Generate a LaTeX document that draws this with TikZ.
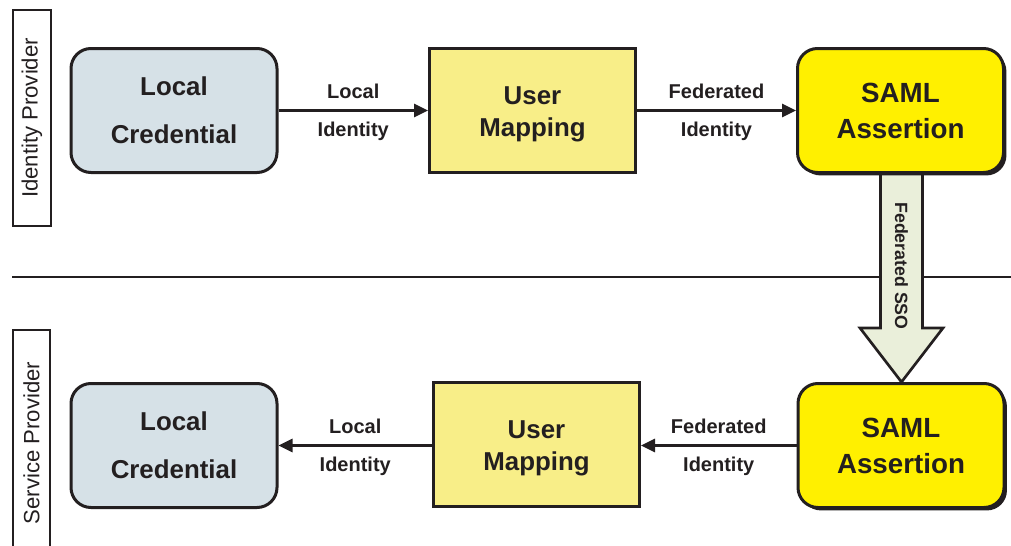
\documentclass[tikz,border=0pt]{standalone}
\usepackage{fontspec}
\setmainfont{Liberation Sans}
\usetikzlibrary{arrows.meta,shadows}
\definecolor{ink}{RGB}{35,31,32}
\definecolor{credblue}{RGB}{214,225,231}
\definecolor{mapyellow}{RGB}{248,238,136}
\definecolor{samlyellow}{RGB}{255,240,0}
\definecolor{ssofill}{RGB}{234,239,218}
\begin{document}
\begin{tikzpicture}[x=0.75pt,y=-0.75pt,
  box/.style={draw=ink, text=ink, line width=2.25pt, align=center, inner sep=0pt,
    minimum width=154.5pt, minimum height=93pt},
  cred/.style={box, rounded corners=15pt, fill=credblue,
    font=\bfseries\fontsize{19.4}{36}\selectfont},
  umap/.style={box, fill=mapyellow, font=\bfseries\fontsize{19.4}{24.5}\selectfont},
  saml/.style={box, rounded corners=15pt, fill=samlyellow,
    font=\bfseries\fontsize{20.8}{27}\selectfont,
    drop shadow={shadow xshift=2.2pt, shadow yshift=-2.2pt, fill=ink, opacity=1}},
  lane/.style={text=ink, font=\fontsize{16.6}{19}\selectfont, inner sep=0pt},
  conn/.style={draw=ink, line width=1.6pt, -{Triangle[length=10.5pt,width=10pt]}},
  lbl/.style={text=ink, font=\bfseries\fontsize{15}{18}\selectfont, inner sep=0pt,
    text height=10.7pt, text depth=0pt}
]
\useasboundingbox (0,0) rectangle (1011,546);

% lanes
\node[lane, draw=ink, line width=1.2pt, rotate=90, minimum width=162pt, minimum height=28.5pt]
  (idp) at (32,118) {Identity Provider};
\draw[ink, line width=1.2pt] (13,550) -- (13,330) -- (50,330) -- (50,550);
\node[lane, rotate=90] (spl) at (31.5,443) {Service Provider};
\draw[ink, line width=0.8pt] (12,277) -- (1011,277);

% federated SSO block arrow (drawn first, under the boxes)
\coordinate (ssotop) at (901.5,172);
\coordinate (ssotip) at (901.5,382);
\filldraw[ink, fill=ssofill, line width=2pt, line join=miter]
  ([xshift=-15.75pt]ssotop) -- ([xshift=-15.75pt]ssotop |- 0,328) -- (860,328)
  -- (ssotip) -- (943,328) -- ([xshift=15.75pt]ssotop |- 0,328) -- ([xshift=15.75pt]ssotop) -- cycle;
\node[text=ink, rotate=-90, font=\bfseries\fontsize{13.3}{16}\selectfont, inner sep=0pt]
  (ssolbl) at (901.5,266) {Federated SSO};

% top row
\node[cred] (credT) at (174,110.5) {Local\\Credential};
\node[umap] (mapT) at (532.5,110.5) {\rule{0pt}{19pt}User\\Mapping};
\node[saml] (samlT) at (900.5,110.5) {SAML\\Assertion};

% bottom row
\node[cred] (credB) at (174,445.5) {Local\\Credential};
\node[umap] (mapB) at (536.5,444.5) {\rule{0pt}{19pt}User\\Mapping};
\node[saml] (samlB) at (901,445.5) {SAML\\Assertion};

% connectors
\draw[conn] (credT) -- (mapT)
  node[lbl, midway, yshift=14.25pt] {Local}
  node[lbl, midway, yshift=-14.25pt] {Identity};
\draw[conn] (mapT) -- (samlT)
  node[lbl, midway, yshift=14.25pt] {Federated}
  node[lbl, midway, yshift=-14.25pt] {Identity};
\draw[conn] (samlB.west) -- (mapB.east |- samlB.west)
  node[lbl, midway, yshift=14.25pt] {Federated}
  node[lbl, midway, yshift=-14.25pt] {Identity};
\draw[conn] (mapB.west |- credB.east) -- (credB.east)
  node[lbl, midway, yshift=14.25pt] {Local}
  node[lbl, midway, yshift=-14.25pt] {Identity};
\end{tikzpicture}
\end{document}
